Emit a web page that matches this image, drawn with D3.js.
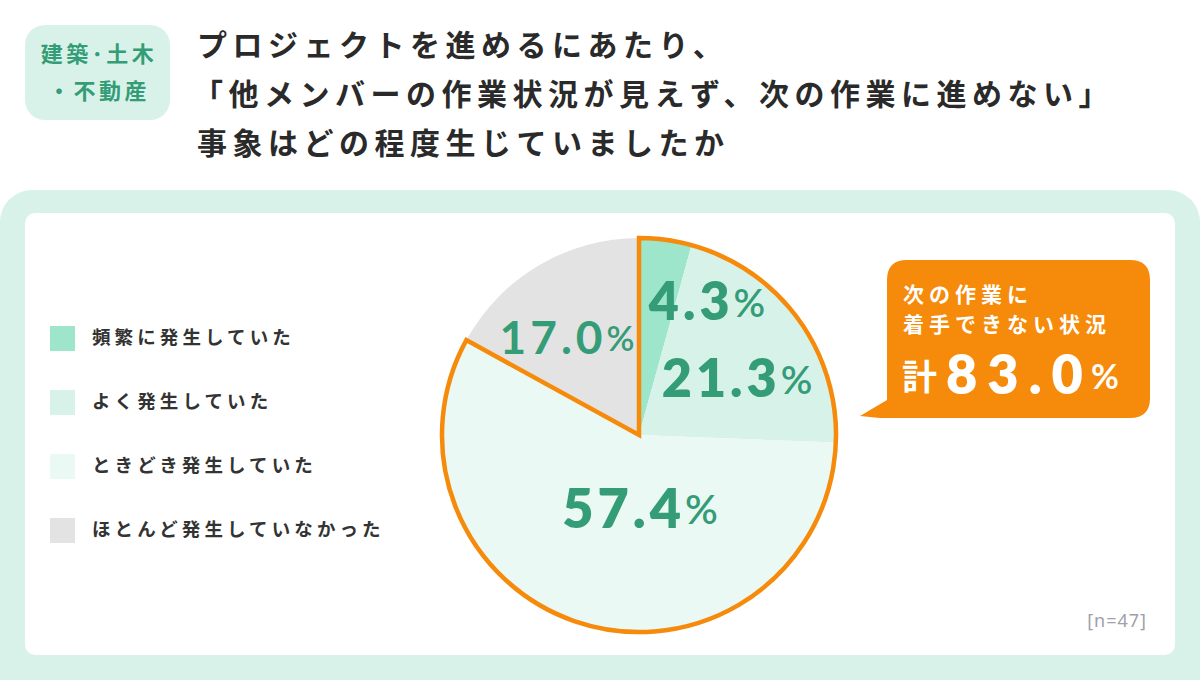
<!DOCTYPE html>
<html><head><meta charset="utf-8">
<script src="https://cdn.jsdelivr.net/npm/d3@7"></script>
<style>body{margin:0;background:#fff}svg{display:block}</style>
</head><body>
<script>
const categories = ["頻繁に発生していた","よく発生していた","ときどき発生していた","ほとんど発生していなかった"];
const values = [4.3, 21.3, 57.4, 17.0];
const colors = ["#9DE5CB","#D7F2E8","#EAF9F3","#E3E3E3"];
const titleLines = ["プロジェクトを進めるにあたり、","「他メンバーの作業状況が見えず、次の作業に進めない」","事象はどの程度生じていましたか"];
const tagLines = ["建築･土木","・不動産"];
const calloutLines = ["次の作業に","着手できない状況"];
const calloutTotal = "83.0";
const sampleNote = "[n=47]";

const W=1200,H=680;
const svg=d3.select("body").append("svg").attr("width",W).attr("height",H);
const jp="'Noto Sans CJK JP','Noto Sans',sans-serif";
const num="Lato,'Open Sans',sans-serif";
const green="#349C76";

// outer frame
svg.append("rect").attr("x",0).attr("y",190).attr("width",W).attr("height",H-190+30).attr("rx",32).attr("fill","#D8F2E9");
svg.append("rect").attr("x",25).attr("y",213).attr("width",1150).attr("height",442).attr("rx",10).attr("fill","#fff");

// tag
svg.append("rect").attr("x",25).attr("y",25).attr("width",145).attr("height",95).attr("rx",20).attr("fill","#D8F2E9");
svg.selectAll("text.tag").data(tagLines).join("text").attr("class","tag")
  .attr("x",99).attr("y",(d,i)=>56+i*37).attr("text-anchor","middle").attr("dominant-baseline","middle")
  .attr("font-family",jp).attr("font-weight",700).attr("font-size",22).attr("letter-spacing",3.5)
  .attr("fill",green).text(d=>d);

// title
svg.selectAll("text.title").data(titleLines).join("text").attr("class","title")
  .attr("x",(d,i)=>i===1?193:197).attr("y",(d,i)=>48+i*49).attr("dominant-baseline","middle")
  .attr("font-family",jp).attr("font-weight",700).attr("font-size",30).attr("fill","#2a2a2a")
  .attr("letter-spacing",5.5).text(d=>d);

// legend
const lg=svg.append("g");
categories.forEach((c,i)=>{
  const y=326+i*64;
  lg.append("rect").attr("x",50).attr("y",y).attr("width",25).attr("height",25).attr("fill",colors[i]);
  lg.append("text").attr("x",92).attr("y",y+13).attr("dominant-baseline","middle")
    .attr("font-family",jp).attr("font-weight",700).attr("font-size",18.5).attr("fill","#333")
    .attr("letter-spacing",4.1).text(c);
});

// pie
const cx=639,cy=435,R=197;
const pie=d3.pie().sort(null).value(d=>d)(values);
const arc=d3.arc().innerRadius(0).outerRadius(R);
const g=svg.append("g").attr("transform",`translate(${cx},${cy})`);
g.selectAll("path.slice").data(pie).join("path").attr("class","slice")
  .attr("d",arc).attr("fill",(d,i)=>colors[i]);
const combined={startAngle:pie[0].startAngle,endAngle:pie[2].endAngle};
g.append("path").attr("d",arc(combined)).attr("fill","none").attr("stroke","#F68A0A")
  .attr("stroke-width",4.5).attr("stroke-linejoin","miter");

// labels
const labelPos=[[707,307],[737,384],[640,514],[567,342]];
const labelSize=[52,52,54,46];
const labelWeight=[800,800,800,700];
const lab=svg.append("g");
values.forEach((v,i)=>{
  const t=lab.append("text").attr("x",labelPos[i][0]).attr("y",labelPos[i][1])
    .attr("text-anchor","middle").attr("dominant-baseline","middle")
    .attr("font-family",num).attr("font-weight",labelWeight[i])
    .attr("font-size",labelSize[i]).attr("fill",green).attr("letter-spacing",4);
  t.append("tspan").text(v.toFixed(1));
  t.append("tspan").attr("font-size",labelSize[i]*0.75).attr("font-weight",600).attr("letter-spacing",0).text("%");
});

// callout
const co=svg.append("g");
co.append("path").attr("d","M907,260 H1130 Q1150,260 1150,280 V398 Q1150,418 1130,418 H880 L860,416 L887,400 V280 Q887,260 907,260 Z")
  .attr("fill","#F68A0A");
calloutLines.forEach((l,i)=>{
  co.append("text").attr("x",903).attr("y",296+i*30).attr("dominant-baseline","middle")
    .attr("font-family",jp).attr("font-weight",700).attr("font-size",21).attr("fill","#fff")
    .attr("letter-spacing",5).text(l);
});
const tt=co.append("text").attr("x",902).attr("y",380).attr("dominant-baseline","middle")
  .attr("font-family",jp).attr("font-weight",700).attr("fill","#fff");
tt.append("tspan").attr("font-size",35).text("計");
tt.append("tspan").attr("dx",9).attr("font-family",num).attr("font-weight",800)
  .attr("font-size",54).attr("letter-spacing",10).text(calloutTotal);
tt.append("tspan").attr("dx",-2).attr("font-family",num).attr("font-weight",700)
  .attr("font-size",34).text("%");

svg.append("text").attr("x",1147).attr("y",622).attr("text-anchor","end").attr("dominant-baseline","middle")
  .attr("font-family","'Noto Sans',sans-serif").attr("font-size",18).attr("letter-spacing",1)
  .attr("fill","#A0A0AA").text(sampleNote);
</script>
</body></html>
